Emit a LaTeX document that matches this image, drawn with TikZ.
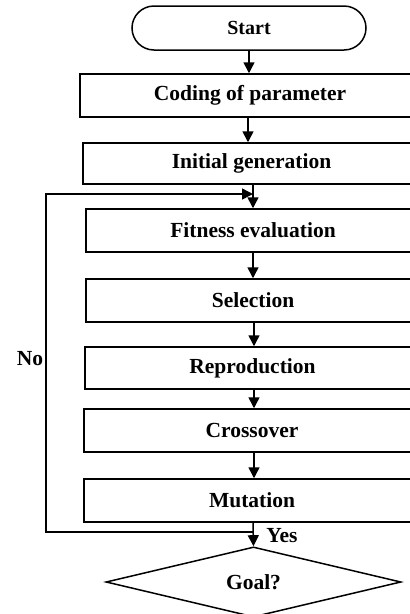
\documentclass[tikz,border=0pt]{standalone}
\usepackage{fontspec}
\setmainfont{Liberation Serif}
\usetikzlibrary{shapes.misc,shapes.geometric,arrows.meta}
\begin{document}
\begin{tikzpicture}[x=1pt,y=1pt,
  every node/.style={font=\bfseries\fontsize{21.5}{24}\selectfont, inner sep=0pt},
  stepbox/.style={draw, line width=1.5pt, rectangle},
  conn/.style={line width=1.5pt, -{Triangle[length=11pt,width=11pt]}},
  plain/.style={line width=1.5pt}]
\useasboundingbox (0,0) rectangle (410,-614);
\clip (0,0) rectangle (410,-614);
\fill[white] (0,0) rectangle (410,-614);
\node[draw, line width=1.5pt, rounded rectangle, minimum width=234pt, minimum height=44pt, font=\bfseries\fontsize{20}{22}\selectfont] (start) at (249,-28) {Start};
\node[stepbox, minimum width=340pt, minimum height=43pt] (b1) at (250,-95.5) {Coding of parameter};
\node[stepbox, minimum width=337pt, minimum height=41pt] (b2) at (251.5,-163.5) {Initial generation};
\node[stepbox, minimum width=334pt, minimum height=43pt] (b3) at (253,-230.5) {Fitness evaluation};
\node[stepbox, minimum width=334pt, minimum height=43pt] (b4) at (253,-300.5) {Selection};
\node[stepbox, minimum width=335pt, minimum height=42pt] (b5) at (252.5,-368) {Reproduction};
\node[stepbox, minimum width=336pt, minimum height=43pt] (b6) at (252,-430.5) {Crossover};
\node[stepbox, minimum width=336pt, minimum height=43pt] (b7) at (252,-500.5) {Mutation};
\node[draw, line width=1.5pt, diamond, minimum width=295pt, minimum height=66pt] (goal) at (253.5,-582) {Goal?};
\node (no) at (30,-359) {No};
\node (yes) at (282,-536) {Yes};
\coordinate (j1) at (253,-532);
\coordinate (c1) at (46,-532);
\coordinate (c2) at (46,-194);
\coordinate (j2) at (253,-194);
\draw[conn] (start.south -| 249,0) -- (b1.north -| 249,0);
\draw[conn] (b1.south -| 248,0) -- (b2.north -| 248,0);
\draw[conn] (b2.south -| 253,0) -- (b3.north -| 253,0);
\draw[conn] (b3.south -| 253,0) -- (b4.north -| 253,0);
\draw[conn] (b4.south -| 254,0) -- (b5.north -| 254,0);
\draw[conn] (b5.south -| 254,0) -- (b6.north -| 254,0);
\draw[conn] (b6.south -| 254,0) -- (b7.north -| 254,0);
\draw[conn] (b7.south -| 253,0) -- (goal.north);
\draw[conn] (j1) -- (c1) -- (c2) -- (j2);
\end{tikzpicture}
\end{document}
